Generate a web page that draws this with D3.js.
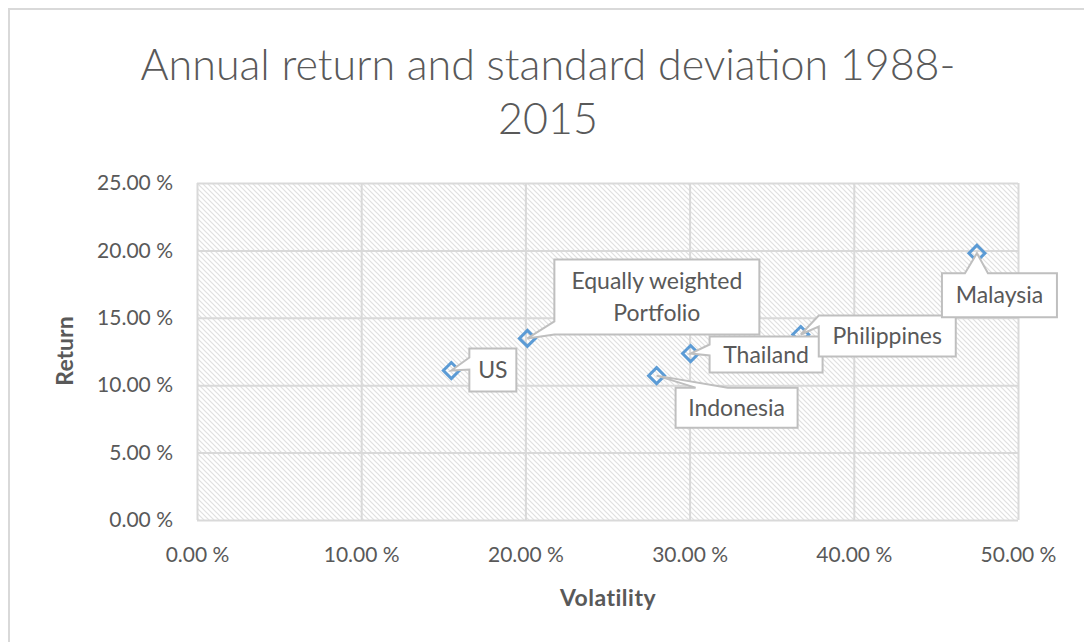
<!DOCTYPE html>
<html>
<head>
<meta charset="utf-8">
<script src="https://cdn.jsdelivr.net/npm/d3@7"></script>
<style>
  body { margin: 0; background: #fff; }
  text { font-family: Lato, "Open Sans", sans-serif; fill: #595959; }
</style>
</head>
<body>
<div id="chart"></div>
<script>
// data
var names = ["US", "Equally weighted Portfolio", "Indonesia", "Thailand", "Philippines", "Malaysia"];
var volatility = [0.1549, 0.2012, 0.2799, 0.3006, 0.3677, 0.4750];
var returns = [0.1109, 0.1347, 0.1071, 0.1235, 0.1376, 0.1979];
var xTicks = [0, 0.1, 0.2, 0.3, 0.4, 0.5];
var yTicks = [0, 0.05, 0.1, 0.15, 0.2, 0.25];

// callout layout (box offset from point, size, wedge side + base along side)
var callouts = [
  {dx: 18, dy: -22, w: 47, h: 43, side: "left", b0: 9, b1: 21, lines: ["US"]},
  {dx: 27, dy: -79, w: 205, h: 75, side: "left", b0: 62, b1: 75, lines: ["Equally weighted", "Portfolio"]},
  {dx: 19, dy: 12, w: 122, h: 40, side: "top", b0: 20, b1: 52, lines: ["Indonesia"]},
  {dx: 19, dy: -17, w: 113, h: 36, side: "left", b0: 8, b1: 19, lines: ["Thailand"]},
  {dx: 18, dy: -19, w: 137, h: 41, side: "left", b0: 0, b1: 11, lines: ["Philippines"]},
  {dx: -35, dy: 20, w: 115, h: 44, side: "top", b0: 23, b1: 46, lines: ["Malaysia"]}
];

var W = 1084, H = 642;
var margin = {top: 183, right: 66, bottom: 122, left: 197},
    width = W - margin.left - margin.right,
    height = H - margin.top - margin.bottom;

var root = d3.select("#chart").append("svg")
  .attr("width", W)
  .attr("height", H);

// outer chart border
root.append("rect")
  .attr("x", 9).attr("y", 9)
  .attr("width", 1200).attr("height", 800)
  .attr("fill", "none")
  .attr("stroke", "#d9d9d9")
  .attr("stroke-width", 2);

// hatch pattern for plot area
var pat = root.append("defs").append("pattern")
  .attr("id", "hatch")
  .attr("patternUnits", "userSpaceOnUse")
  .attr("width", 5).attr("height", 5);
pat.append("rect").attr("width", 5).attr("height", 5).attr("fill", "#fff");
pat.append("path")
  .attr("d", "M-1,-1 L6,6 M-1,4 L1,6 M4,-1 L6,1")
  .attr("stroke", "#e0e0e0")
  .attr("stroke-width", 1.2);

// title
root.append("text")
  .attr("x", 548).attr("y", 0)
  .attr("text-anchor", "middle")
  .style("font-size", "43px")
  .style("font-weight", 300)
  .selectAll("tspan")
  .data(["Annual return and standard deviation 1988-", "2015"])
  .enter().append("tspan")
    .attr("x", 548)
    .attr("y", function(d, i) { return 80 + i * 54; })
    .text(function(d) { return d; });

var svg = root.append("g")
  .attr("transform", "translate(" + margin.left + "," + margin.top + ")");

var x = d3.scaleLinear().domain([0, 0.5]).range([0, width]);
var y = d3.scaleLinear().domain([0, 0.25]).range([height, 0]);

var pct = function(v) { return d3.format(".2f")(v * 100) + " %"; };

svg.append("rect")
  .attr("width", width).attr("height", height)
  .attr("fill", "url(#hatch)");

// grid lines
svg.append("g")
  .attr("class", "xgrid")
  .call(d3.axisBottom(x).tickValues(xTicks).tickSize(height).tickFormat(""))
  .call(function(g) {
    g.select(".domain").remove();
    g.selectAll("line").attr("stroke", "#d9d9d9").attr("stroke-width", 2);
  });
svg.append("g")
  .attr("class", "ygrid")
  .call(d3.axisLeft(y).tickValues(yTicks).tickSize(-width).tickFormat(""))
  .call(function(g) {
    g.select(".domain").remove();
    g.selectAll("line").attr("stroke", "#d9d9d9").attr("stroke-width", 2);
  });

// tick labels
svg.append("g")
  .attr("transform", "translate(0," + height + ")")
  .call(d3.axisBottom(x).tickValues(xTicks).tickSize(0).tickPadding(27).tickFormat(pct))
  .call(function(g) {
    g.select(".domain").remove();
    g.selectAll("text").style("font-size", "21px").attr("fill", "#595959");
  });
svg.append("g")
  .call(d3.axisLeft(y).tickValues(yTicks).tickSize(0).tickPadding(24).tickFormat(pct))
  .call(function(g) {
    g.select(".domain").remove();
    g.selectAll("text").style("font-size", "21px").attr("fill", "#595959");
  });

// axis titles
root.append("text")
  .attr("x", 608).attr("y", 606)
  .attr("text-anchor", "middle")
  .style("font-size", "23px").style("font-weight", "bold")
  .style("letter-spacing", "0.5px")
  .text("Volatility");
root.append("text")
  .attr("transform", "translate(73,351) rotate(-90)")
  .attr("text-anchor", "middle")
  .style("font-size", "23px").style("font-weight", "bold")
  .text("Return");

var pts = names.map(function(n, i) {
  return {name: n, px: x(volatility[i]), py: y(returns[i]), c: callouts[i]};
});

// callout path: box with a wedge to the point
function calloutPath(d) {
  var c = d.c, x0 = d.px + c.dx, y0 = d.py + c.dy, x1 = x0 + c.w, y1 = y0 + c.h;
  var p = d3.path();
  if (c.side == "left") {
    p.moveTo(x0, y0);
    p.lineTo(x1, y0); p.lineTo(x1, y1); p.lineTo(x0, y1);
    p.lineTo(x0, y0 + c.b1); p.lineTo(d.px, d.py); p.lineTo(x0, y0 + c.b0);
  } else {
    p.moveTo(x0, y0);
    p.lineTo(x0 + c.b0, y0); p.lineTo(d.px, d.py); p.lineTo(x0 + c.b1, y0);
    p.lineTo(x1, y0); p.lineTo(x1, y1); p.lineTo(x0, y1);
  }
  p.closePath();
  return p.toString();
}

// markers
svg.append("g")
  .selectAll("path")
  .data(pts)
  .enter().append("path")
    .attr("transform", function(d) { return "translate(" + d.px + "," + d.py + ")"; })
    .attr("d", "M0,-8 L8,0 L0,8 L-8,0 Z")
    .attr("fill", "none")
    .attr("stroke", "#5b9bd5")
    .attr("stroke-width", 3);

// callouts
var lab = svg.append("g")
  .selectAll("g")
  .data(pts)
  .enter().append("g");
lab.append("path")
  .attr("d", calloutPath)
  .attr("fill", "#fff")
  .attr("stroke", "#bfbfbf")
  .attr("stroke-width", 2);
lab.append("text")
  .attr("text-anchor", "middle")
  .style("font-size", "23px")
  .selectAll("tspan")
  .data(function(d) {
    var n = d.c.lines.length;
    return d.c.lines.map(function(t, i) {
      return {t: t, x: d.px + d.c.dx + d.c.w / 2,
              y: d.py + d.c.dy + d.c.h / 2 + 8 + (i - (n - 1) / 2) * 32};
    });
  })
  .enter().append("tspan")
    .attr("x", function(d) { return d.x; })
    .attr("y", function(d) { return d.y; })
    .text(function(d) { return d.t; });
</script>
</body>
</html>
